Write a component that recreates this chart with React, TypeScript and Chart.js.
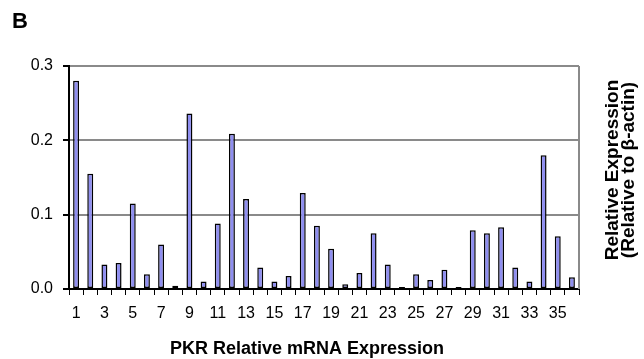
import React, { useEffect, useRef } from 'react';
import { Chart, registerables } from 'chart.js';

Chart.register(...registerables);

const categories = [
  '1', '2', '3', '4', '5', '6', '7', '8', '9', '10', '11', '12',
  '13', '14', '15', '16', '17', '18', '19', '20', '21', '22', '23', '24',
  '25', '26', '27', '28', '29', '30', '31', '32', '33', '34', '35', '36',
];

const expressionValues = [
  0.280, 0.155, 0.033, 0.035, 0.115, 0.020, 0.060, 0.0045, 0.236, 0.010, 0.088, 0.209,
  0.121, 0.029, 0.010, 0.0175, 0.129, 0.085, 0.054, 0.0063, 0.0215, 0.075, 0.033, 0.0027,
  0.020, 0.012, 0.026, 0.0027, 0.079, 0.075, 0.083, 0.029, 0.010, 0.180, 0.071, 0.0157,
];

const yTicks = [0, 0.1, 0.2, 0.3];

const panelLabel = 'B';
const xTitle = 'PKR Relative mRNA Expression';
const yTitleLines = ['Relative Expression', '(Relative to \u03B2-actin)'];

const FONT = '"Liberation Sans", Arial, Helvetica, sans-serif';

const textPlugin = {
  id: 'extraTexts',
  afterDraw(chart: any) {
    const { ctx, chartArea } = chart;
    ctx.save();
    // right frame line
    ctx.strokeStyle = '#8a8a8a';
    ctx.lineWidth = 2;
    ctx.beginPath();
    ctx.moveTo(chartArea.right, chartArea.top);
    ctx.lineTo(chartArea.right, chartArea.bottom);
    ctx.stroke();

    ctx.fillStyle = '#000';
    ctx.font = `bold 22px ${FONT}`;
    ctx.textAlign = 'left';
    ctx.textBaseline = 'alphabetic';
    ctx.fillText(panelLabel, 12, 28);

    ctx.font = `bold 18px ${FONT}`;
    ctx.textAlign = 'center';
    ctx.textBaseline = 'middle';
    ctx.fillText(xTitle, 307, 349);

    ctx.translate(621, 170);
    ctx.rotate(-Math.PI / 2);
    ctx.font = `bold 19px ${FONT}`;
    ctx.fillText(yTitleLines[0], 0, -8);
    ctx.fillText(yTitleLines[1], 0, 8);
    ctx.restore();
  },
};

export default function App() {
  const canvasRef = useRef<HTMLCanvasElement | null>(null);

  useEffect(() => {
    const canvas = canvasRef.current;
    if (!canvas) return;
    const chart = new Chart(canvas, {
      type: 'bar',
      data: {
        labels: categories,
        datasets: [
          {
            data: expressionValues,
            backgroundColor: '#8f8ef0',
            borderColor: '#000',
            borderWidth: 1.5,
            borderSkipped: false,
            barPercentage: 0.42,
            categoryPercentage: 1,
          },
        ],
      },
      options: {
        responsive: false,
        animation: false,
        devicePixelRatio: 1,
        layout: { padding: { left: 0, right: 65, top: 66, bottom: 0 } },
        plugins: {
          legend: { display: false },
          tooltip: { enabled: false },
          title: { display: false },
        },
        scales: {
          x: {
            offset: true,
            afterFit: (scale: any) => {
              scale.height = 70;
            },
            grid: {
              offset: true,
              drawOnChartArea: false,
              drawTicks: true,
              tickLength: 6,
              color: '#000',
              lineWidth: 1,
            },
            border: { display: true, color: '#000', width: 2 },
            ticks: {
              autoSkip: false,
              maxRotation: 0,
              minRotation: 0,
              padding: 9,
              color: '#000',
              font: { family: FONT, size: 16 },
              callback: (_v: any, i: number) => (i % 2 === 0 ? categories[i] : ''),
            },
          },
          y: {
            min: 0,
            max: 0.3,
            afterFit: (scale: any) => {
              scale.width = 69;
            },
            afterBuildTicks: (scale: any) => {
              scale.ticks = yTicks.map((v) => ({ value: v }));
            },
            grid: {
              color: (c: any) => (c.tick && c.tick.value === 0 ? '#000' : '#8a8a8a'),
              tickColor: '#000',
              lineWidth: 2,
              tickLength: 6,
            },
            border: { display: true, color: '#000', width: 2 },
            ticks: {
              padding: 10,
              color: '#000',
              font: { family: FONT, size: 16 },
              callback: (v: any) => Number(v).toFixed(1),
            },
          },
        },
      },
      plugins: [textPlugin],
    });
    return () => chart.destroy();
  }, []);

  return (
    <div style={{ position: 'fixed', left: 0, top: 0, width: 644, height: 359, background: '#fff' }}>
      <canvas ref={canvasRef} width={644} height={359} />
    </div>
  );
}
